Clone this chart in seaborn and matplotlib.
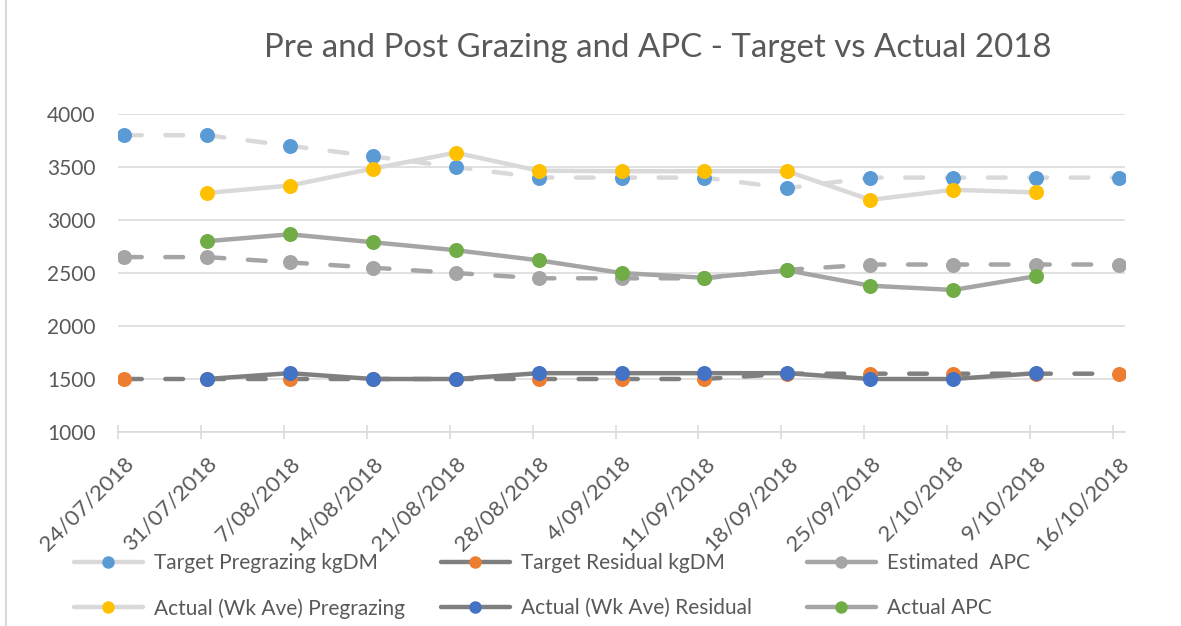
import numpy as np
import seaborn as sns
import matplotlib.pyplot as plt
from matplotlib.lines import Line2D

# data
dates = ["24/07/2018", "31/07/2018", "7/08/2018", "14/08/2018", "21/08/2018",
         "28/08/2018", "4/09/2018", "11/09/2018", "18/09/2018", "25/09/2018",
         "2/10/2018", "9/10/2018", "16/10/2018"]
target_pre = [3800, 3800, 3700, 3600, 3500, 3400, 3400, 3400, 3300, 3400, 3400, 3400, 3400]
target_res = [1500, 1500, 1500, 1500, 1500, 1500, 1500, 1500, 1550, 1550, 1550, 1550, 1550]
est_apc = [2650, 2650, 2600, 2550, 2500, 2450, 2450, 2450, 2530, 2580, 2580, 2580, 2580]
actual_pre = [np.nan, 3255, 3325, 3485, 3635, 3465, 3460, 3460, 3460, 3190, 3285, 3260, np.nan]
actual_res = [np.nan, 1500, 1555, 1500, 1500, 1555, 1555, 1555, 1555, 1500, 1500, 1555, np.nan]
actual_apc = [np.nan, 2800, 2865, 2790, 2715, 2620, 2500, 2455, 2525, 2380, 2340, 2470, np.nan]

sns.set_theme(style="white")
plt.rcParams['font.family'] = ['Lato', 'DejaVu Sans']
txt_col = "#595959"

W, H = 1181, 626
fig = plt.figure(figsize=(W / 100, H / 100), dpi=100)
ax = fig.add_axes([118 / W, 1 - 432 / H, (1125 - 118) / W, (432 - 114) / H])

x = np.arange(len(dates))
dash = (0, (4.0, 5.3))
lw = 3.2
ms = 10.8

# series: values, line colour, marker colour, linestyle, label
series = [
    (target_pre, "#D9D9D9", "#5B9BD5", dash, "Target Pregrazing kgDM"),
    (target_res, "#7F7F7F", "#ED7D31", dash, "Target Residual kgDM"),
    (est_apc, "#A5A5A5", "#A5A5A5", dash, "Estimated  APC"),
    (actual_pre, "#D9D9D9", "#FFC000", "-", "Actual (Wk Ave) Pregrazing"),
    (actual_res, "#7F7F7F", "#4472C4", "-", "Actual (Wk Ave) Residual"),
    (actual_apc, "#A5A5A5", "#70AD47", "-", "Actual APC"),
]

for vals, lc, mc, ls, lab in series:
    sns.lineplot(x=x, y=vals, ax=ax, color=lc, linewidth=lw, linestyle=ls,
                 marker="o", markersize=ms, markerfacecolor=mc,
                 markeredgecolor=mc, markeredgewidth=0, errorbar=None,
                 legend=False, sort=False, dash_capstyle="round",
                 solid_capstyle="round", solid_joinstyle="round")

ax.set_xlim(-0.072, 12.072)
ax.set_ylim(1000, 4000)
ax.set_yticks([1000, 1500, 2000, 2500, 3000, 3500, 4000])
ax.yaxis.grid(True, color="#D9D9D9", linewidth=1.1)
ax.set_axisbelow(True)
for s in ["left", "right", "top"]:
    ax.spines[s].set_visible(False)
ax.spines["bottom"].set_color("#D9D9D9")
ax.spines["bottom"].set_linewidth(1.1)

ax.set_xticks(x)
ax.set_xticklabels(dates, rotation=45, ha="right", va="top", rotation_mode="anchor")
ax.set_xticks(np.arange(len(dates)) - 0.072, minor=True)
ax.tick_params(axis="x", which="major", length=0, pad=15, labelsize=16, labelcolor=txt_col)
ax.tick_params(axis="x", which="minor", length=10, direction="inout", width=1.1,
               color="#D9D9D9", bottom=True)
ax.tick_params(axis="y", length=0, pad=16, labelsize=15, labelcolor=txt_col)
ax.set_xlabel("")
ax.set_ylabel("")

fig.text(658 / W, 1 - 48 / H, "Pre and Post Grazing and APC - Target vs Actual 2018",
         ha="center", va="center", fontsize=23.8, color=txt_col)

# legend, one block per column like Excel's fixed-width columns
col_x = [74, 441, 807]
for c in range(3):
    hs = []
    for vals, lc, mc, ls, lab in (series[c], series[c + 3]):
        hs.append(Line2D([], [], color=lc, linewidth=lw, solid_capstyle="round",
                         marker="o", markersize=9, markerfacecolor=mc,
                         markeredgecolor=mc, markeredgewidth=0, label=lab))
    fig.legend(handles=hs, loc="upper left", bbox_to_anchor=(col_x[c] / W, 1 - 553 / H),
               frameon=False, fontsize=15, handlelength=3.3, handletextpad=0.55,
               labelspacing=1.2, borderpad=0, borderaxespad=0, labelcolor=txt_col)

fig.add_artist(Line2D([6 / W, 6 / W], [0, 1], color="#D9D9D9", linewidth=1.5,
                      transform=fig.transFigure))

fig.savefig("out.png", dpi=100)
